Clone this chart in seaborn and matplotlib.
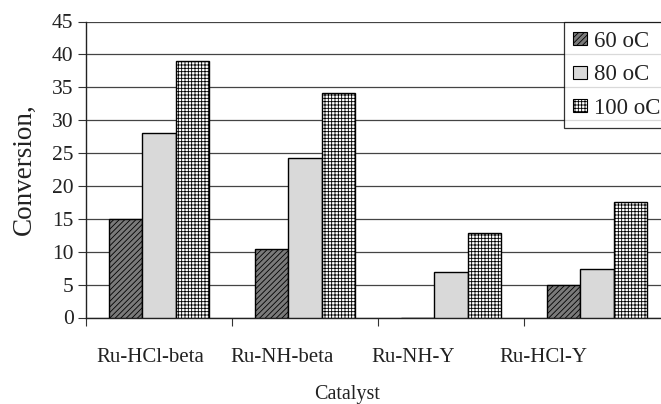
import matplotlib
matplotlib.use("Agg")
import matplotlib.pyplot as plt
import seaborn as sns
import pandas as pd
from matplotlib.patches import Patch

catalysts = ["Ru-HCl-beta", "Ru-NH-beta", "Ru-NH-Y", "Ru-HCl-Y"]
temps = ["60 oC", "80 oC", "100 oC"]
conv_60 = [15.0, 10.4, 0.0, 5.0]
conv_80 = [28.1, 24.2, 6.9, 7.4]
conv_100 = [39.0, 34.1, 12.9, 17.6]

rows = []
for t, vals in zip(temps, [conv_60, conv_80, conv_100]):
    for c, v in zip(catalysts, vals):
        rows.append({"Catalyst": c, "Temp": t, "Conversion": v})
df = pd.DataFrame(rows)

sns.set_theme(style="white")
plt.rcParams["font.family"] = ["Liberation Serif", "DejaVu Serif"]
plt.rcParams["hatch.linewidth"] = 0.6

W, H = 661, 404
fig = plt.figure(figsize=(W / 100, H / 100), dpi=100)
ax = fig.add_axes([86 / W, (H - 317.5) / H, 584 / W, (317.5 - 21.5) / H])

styles = {
    "60 oC": dict(face="#7a7a7a", hatch="//////"),
    "80 oC": dict(face="#d9d9d9", hatch=""),
    "100 oC": dict(face="#ffffff", hatch="+++++"),
}
palette = {t: styles[t]["face"] for t in temps}

sns.barplot(data=df, x="Catalyst", y="Conversion", hue="Temp", order=catalysts,
            hue_order=temps, palette=palette, width=0.68, gap=0, dodge=True,
            saturation=1, edgecolor="black", linewidth=1.0, ax=ax, legend=False,
            zorder=3)

for i, p in enumerate(ax.patches):
    t = temps[i // len(catalysts)]
    p.set_hatch(styles[t]["hatch"])
    p.set_edgecolor("black")
    p.set_facecolor(styles[t]["face"])

ax.set_ylim(0, 45)
ax.set_yticks(range(0, 46, 5))
ax.set_xlim(-0.5, 3.5)
ax.set_xticks([-0.5, 0.5, 1.5, 2.5, 3.5])
ax.set_xticklabels([])
# category labels sit slightly left of the group centres in the reference
ax.set_xticks([-0.06, 0.84, 1.74, 2.63], minor=True)
ax.set_xticklabels(catalysts, minor=True)
ax.tick_params(axis="x", which="major", direction="out", length=6, width=0.8, color="#333333", bottom=True)
ax.tick_params(axis="x", which="minor", length=0, pad=22, labelsize=15, labelcolor="#222222")
ax.tick_params(axis="y", direction="out", length=6, width=0.8, color="#333333", left=True,
               labelsize=15.5, labelcolor="#222222", pad=3)

ax.yaxis.grid(True, color="#444444", linewidth=0.9, zorder=0)
ax.set_axisbelow(True)
for s in ["top", "right"]:
    ax.spines[s].set_visible(False)
for s in ["left", "bottom"]:
    ax.spines[s].set_color("#222222")
    ax.spines[s].set_linewidth(1.0)

ax.set_xlabel("Catalyst", fontsize=14.5, color="#222222")
ax.xaxis.label.set_va("baseline")
ax.xaxis.set_label_coords((347 - 86) / 584, (317.5 - 399) / 296)
ax.set_ylabel("Conversion,", fontsize=19.5, color="#222222", labelpad=11)

handles = [Patch(facecolor=styles[t]["face"], edgecolor="black", hatch=styles[t]["hatch"],
                 linewidth=0.8, label=t) for t in temps]
leg = fig.legend(handles=handles, loc="upper left", bbox_to_anchor=(564 / W, 1 - 21.5 / H),
                 bbox_transform=fig.transFigure, frameon=True, fancybox=False,
                 edgecolor="black", fontsize=16.5, handlelength=0.6, handleheight=0.5,
                 handletextpad=0.3, labelspacing=0.55, borderpad=0.4, borderaxespad=0)
leg.get_frame().set_linewidth(0.9)
for t in leg.get_texts():
    t.set_color("#222222")

fig.savefig("out.png", dpi=100)
